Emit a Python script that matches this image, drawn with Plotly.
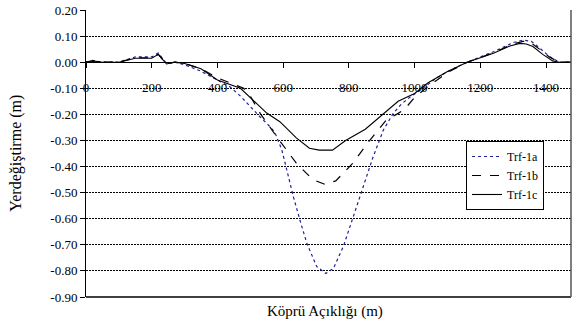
import plotly.graph_objects as go

x_1a = [0, 20, 50, 100, 150, 200, 220, 245, 270, 300, 347, 400, 438, 470, 499, 530, 560, 575, 596, 611, 631, 651, 672, 702, 730, 753, 783, 814, 844, 874, 905, 935, 960, 990, 1017, 1067, 1110, 1160, 1240, 1300, 1330, 1355, 1380, 1410, 1440, 1476]
y_1a = [0, 0.007, 0, 0, 0.02, 0.02, 0.035, -0.005, 0, -0.01, -0.033, -0.07, -0.094, -0.13, -0.17, -0.21, -0.247, -0.27, -0.336, -0.413, -0.515, -0.605, -0.694, -0.783, -0.81, -0.79, -0.707, -0.59, -0.477, -0.362, -0.26, -0.196, -0.16, -0.13, -0.108, -0.06, -0.03, 0, 0.04, 0.075, 0.085, 0.08, 0.055, 0.022, 0, 0]

x_1b = [0, 20, 50, 100, 150, 200, 220, 245, 270, 300, 350, 400, 450, 480, 500, 530, 580, 640, 690, 727, 760, 810, 860, 915, 945, 970, 1000, 1040, 1100, 1160, 1240, 1300, 1330, 1350, 1380, 1410, 1440, 1476]
y_1b = [0, 0.005, 0, 0, 0.017, 0.017, 0.03, -0.007, 0, -0.005, -0.025, -0.06, -0.085, -0.10, -0.13, -0.196, -0.285, -0.387, -0.45, -0.468, -0.455, -0.39, -0.305, -0.22, -0.2, -0.18, -0.135, -0.094, -0.04, 0, 0.036, 0.07, 0.08, 0.078, 0.05, 0.02, 0, 0]

x_1c = [0, 20, 50, 100, 150, 200, 220, 245, 270, 300, 350, 400, 470, 520, 550, 590, 640, 680, 710, 750, 790, 850, 900, 950, 1000, 1040, 1100, 1160, 1240, 1290, 1320, 1340, 1360, 1390, 1420, 1440, 1476]
y_1c = [0, 0.005, 0, 0, 0.015, 0.015, 0.03, -0.007, 0, -0.005, -0.025, -0.068, -0.10, -0.16, -0.195, -0.228, -0.29, -0.33, -0.337, -0.337, -0.30, -0.257, -0.205, -0.15, -0.12, -0.08, -0.036, 0, 0.034, 0.062, 0.072, 0.07, 0.06, 0.03, 0.005, 0, 0]

x_ticks = [0, 200, 400, 600, 800, 1000, 1200, 1400]
y_ticks = [0.2, 0.1, 0.0, -0.1, -0.2, -0.3, -0.4, -0.5, -0.6, -0.7, -0.8, -0.9]
y_tick_labels = ["0.20", "0.10", "0.00", "-0.10", "-0.20", "-0.30", "-0.40", "-0.50", "-0.60", "-0.70", "-0.80", "-0.90"]

FONT = "Liberation Serif"

fig = go.Figure()
fig.add_trace(go.Scatter(x=x_1a, y=y_1a, mode="lines", name="Trf-1a",
                         line=dict(color="#1f1f99", width=1.2, dash="dot")))
fig.add_trace(go.Scatter(x=x_1b, y=y_1b, mode="lines", name="Trf-1b",
                         line=dict(color="black", width=1.2, dash="dash")))
fig.add_trace(go.Scatter(x=x_1c, y=y_1c, mode="lines", name="Trf-1c",
                         line=dict(color="black", width=1.1)))

ymin, ymax = -0.9, 0.2
fig.update_layout(
    width=572, height=329,
    margin=dict(l=86, r=1, t=10, b=32),
    paper_bgcolor="white", plot_bgcolor="white",
    font=dict(family=FONT, size=13, color="black"),
    showlegend=True,
    legend=dict(x=0.7835, y=0.5436, xanchor="left", yanchor="top",
                bordercolor="black", borderwidth=1, bgcolor="white",
                font=dict(family=FONT, size=12), itemwidth=30,
                tracegroupgap=0),
    xaxis=dict(range=[0, 1476], tickvals=x_ticks, ticks="outside", ticklen=5,
               tickcolor="black", showgrid=False, zeroline=False,
               showline=True, linecolor="black", linewidth=1,
               anchor="free", position=(0 - ymin) / (ymax - ymin),
               ticklabelstandoff=8,
               tickfont=dict(family=FONT, size=13)),
    yaxis=dict(range=[ymin, ymax], tickvals=y_ticks, ticktext=y_tick_labels,
               ticks="outside", ticklen=5, tickcolor="black",
               showgrid=True, gridcolor="black", gridwidth=1, griddash="2px,1px",
               zeroline=False, showline=True, linecolor="black", linewidth=1,
               tickfont=dict(family=FONT, size=13)),
    shapes=[
        dict(type="line", xref="paper", yref="paper", x0=0, x1=1, y0=0, y1=0,
             line=dict(color="black", width=1.5)),
        dict(type="line", xref="paper", yref="paper", x0=1, x1=1, y0=0, y1=1,
             line=dict(color="#555555", width=1.5)),
    ],
    annotations=[
        dict(text="Köprü Açıklığı (m)", xref="paper", yref="paper",
             x=0.493, y=-0.052, xanchor="center", yanchor="middle", showarrow=False,
             font=dict(family=FONT, size=15)),
        dict(text="Yerdeğiştirme (m)", xref="paper", yref="paper",
             x=-0.146, y=0.5, xanchor="center", yanchor="middle", showarrow=False,
             textangle=-90, font=dict(family=FONT, size=16)),
    ],
)

fig.write_html("out.html", config={"displayModeBar": False},
               post_script="document.body.style.margin='0';document.body.style.overflow='hidden';")
